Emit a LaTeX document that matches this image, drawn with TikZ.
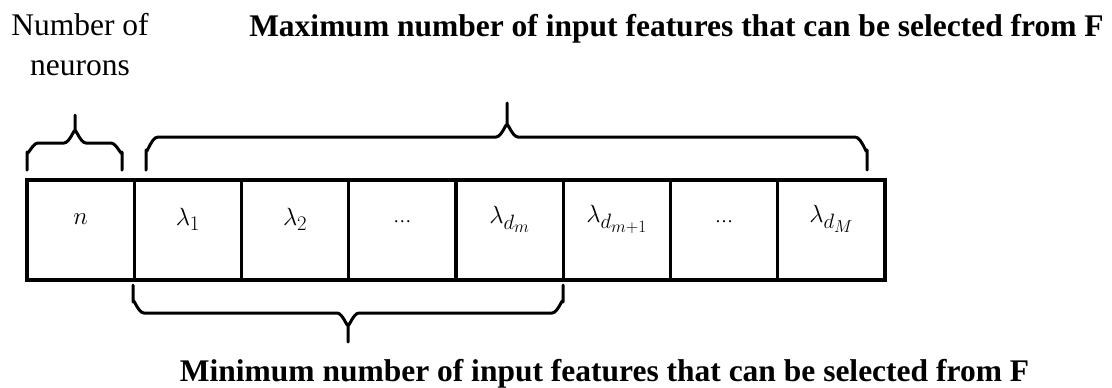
\documentclass[tikz,border=0pt]{standalone}
\usepackage{fontspec}
\setmainfont{Liberation Serif}
\DeclareMathSizes{28}{28}{20}{16}
\begin{document}
\begin{tikzpicture}[x=1pt,y=-1pt,
  cell/.style={draw, line width=3.2pt, minimum width=107.25pt, minimum height=100pt, inner sep=0pt},
  sym/.style={inner sep=0pt, font=\fontsize{28}{32}\selectfont},
  dots/.style={inner sep=0pt, font=\fontsize{18}{20}\selectfont},
  brace/.style={line width=3pt, line cap=round, line join=round},
  caption/.style={inner sep=0pt, font=\fontsize{31.5}{40}\selectfont\bfseries},
  plain/.style={inner sep=0pt, font=\fontsize{31.5}{40}\selectfont}]
\useasboundingbox (0,0) rectangle (1112,388);
% row of cells
\foreach \i/\nm in {0/cn,1/c1,2/c2,3/c3,4/c4,5/c5,6/c6,7/c7}{
  \node[cell] (\nm) at ({27+107.25*(\i+0.5)},230) {};
}
% cell symbols, set a little above the middle of each cell
\node[sym] (tn) at ([yshift=11pt]cn.center) {$n$};
\node[sym] (t1) at ([yshift=11pt]c1.center) {$\lambda_1$};
\node[sym] (t2) at ([yshift=11pt]c2.center) {$\lambda_2$};
\node[dots] (t3) at ([yshift=8pt]c3.center) {\ldots};
\node[sym] (t4) at ([yshift=11pt]c4.center) {$\lambda_{d_m}$};
\node[sym] (t5) at ([yshift=11pt]c5.center) {$\lambda_{d_{m+1}}$};
\node[dots] (t6) at ([yshift=8pt]c6.center) {\ldots};
\node[sym] (t7) at ([yshift=11pt]c7.center) {$\lambda_{d_M}$};
% brace over the neuron count
\draw[brace] (27,170) -- (27,152) to[out=-90,in=180] (38,143) -- (64,143)
  to[out=0,in=90] (75,132) -- (75,115) -- (75,132) to[out=90,in=180] (86,143)
  -- (111,143) to[out=0,in=-90] (122,152) -- (122,170);
% brace over the largest feature set
\draw[brace] (146,170) -- (146,150) to[out=-90,in=180] (158,137) -- (496,137)
  to[out=0,in=90] (507,126) -- (507,103) -- (507,126) to[out=90,in=180] (518,137)
  -- (855,137) to[out=0,in=-90] (867,150) -- (867,170);
% brace under the smallest feature set
\draw[brace] (133,285) -- (133,302) to[out=90,in=180] (144,313) -- (337,313)
  to[out=0,in=-90] (348,324) -- (348,342) -- (348,324) to[out=-90,in=180] (359,313)
  -- (552,313) to[out=0,in=90] (563,302) -- (563,285);
% texts
\node[plain, anchor=base] (lneu1) at (80,35) {Number of};
\node[plain, anchor=base] (lneu2) at (80,75) {neurons};
\node[caption, anchor=base] (lmax) at (676.5,36) {Maximum number of input features that can be selected from F};
\node[caption, anchor=base] (lmin) at (604.5,381) {Minimum number of input features that can be selected from F};
\end{tikzpicture}
\end{document}
